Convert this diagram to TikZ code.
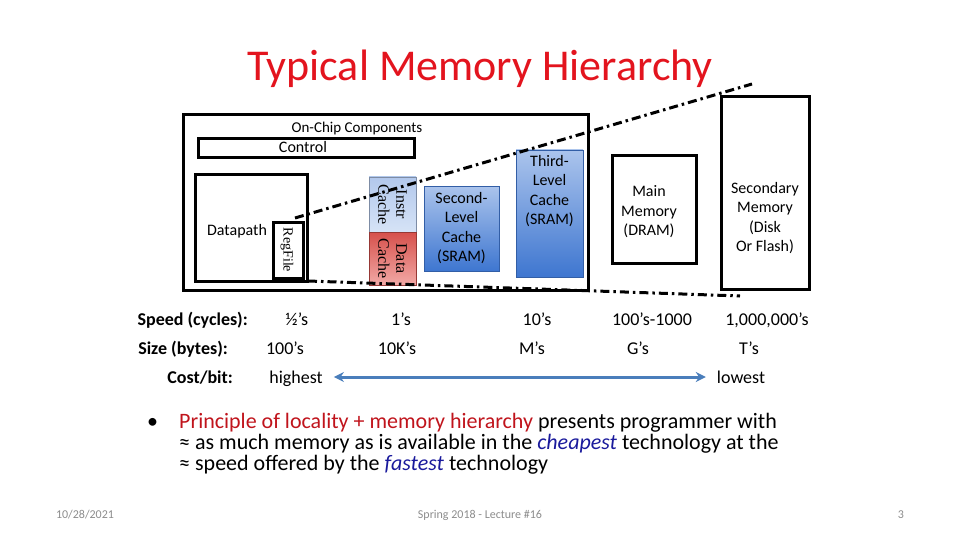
\documentclass[tikz,border=0pt]{standalone}
\usepackage{fontspec}
\setmainfont{Carlito}
\newfontfamily\serifcap{Liberation Serif}
\usetikzlibrary{arrows.meta,positioning}
\definecolor{titlered}{HTML}{E3141E}
\definecolor{locred}{HTML}{C0141C}
\definecolor{navy}{HTML}{1A1A9C}
\definecolor{arrowblue}{HTML}{4A7EBB}
\definecolor{footgray}{HTML}{8C8C8C}
\definecolor{cacheblueA}{HTML}{ABC4EC}
\definecolor{cacheblueB}{HTML}{3E76D0}
\definecolor{instrA}{HTML}{B2C8EC}
\definecolor{instrB}{HTML}{D6E3F6}
\definecolor{dataA}{HTML}{D6504B}
\definecolor{dataB}{HTML}{F2A9A6}

\begin{document}
\begin{tikzpicture}[x=1pt,y=-1pt,
  blk/.style={draw,line width=3pt,inner sep=0pt,minimum width=#1},
  blk/.default=10pt,
  cache/.style={draw=cacheblueB!80!black,line width=0.6pt,top color=cacheblueA,bottom color=cacheblueB,inner sep=0pt},
  lbl/.style={font=\fontsize{16}{19.5}\selectfont,align=center,inner sep=0pt},
  rowlbl/.style={font=\fontsize{18}{22}\selectfont\bfseries,anchor=base east,inner sep=0pt},
  rowval/.style={font=\fontsize{18}{22}\selectfont,anchor=base,inner sep=0pt},
  pline/.style={font=\fontsize{22}{21}\selectfont,anchor=base west,inner sep=0pt},
  foot/.style={font=\fontsize{12}{14}\selectfont,text=footgray,inner sep=0pt},
  hierline/.style={line width=3pt,dash pattern=on 9pt off 4pt on 2.5pt off 4pt}]
\useasboundingbox (0,0) rectangle (960,540);

% title
\node[font=\fontsize{44}{53}\selectfont,text=titlered,anchor=base,inner sep=0pt] (title) at (480,81) {Typical Memory Hierarchy};

% on-chip part
\node[blk=405pt,minimum height=175pt] (chip) at (385.5,202.5) {};
\node[lbl,font=\fontsize{15}{18}\selectfont] (chiplbl) at (357,129) {On-Chip Components};
\node[blk=216pt,minimum height=19pt] (control) at (306,148.5) {};
\node[lbl] (ctrllbl) at (303,147) {Control};
\node[blk=112pt,minimum height=106pt] (datapath) at (251,228) {};
\node[lbl] (dplbl) at (237,231) {Datapath};
\node[blk=30pt,minimum height=56pt] (regfile) at (288,250) {};
\node[rotate=-90,font=\serifcap\fontsize{14}{16}\selectfont,inner sep=0pt] (rflbl) at (287,250) {RegFile};
\node[draw=instrA!70!black,line width=0.6pt,top color=instrA,bottom color=instrB,minimum width=47pt,minimum height=55pt,inner sep=0pt] (instr) at (392.5,204.5) {};
\node[draw=dataA!70!black,line width=0.6pt,top color=dataA,bottom color=dataB,minimum width=47pt,minimum height=53pt,inner sep=0pt] (data) at (392.5,258.5) {};
\node[rotate=-90,align=center,font=\serifcap\fontsize{16}{18}\selectfont,inner sep=0pt] (instrlbl) at (instr) {Instr\\Cache};
\node[rotate=-90,align=center,font=\serifcap\fontsize{16}{18}\selectfont,inner sep=0pt] (datalbl) at (data) {Data\\Cache};
\node[cache,minimum width=75pt,minimum height=85pt] (ltwo) at (461.5,228.5) {};
\node[lbl] (ltwolbl) at (461.5,228) {Second-\\Level\\Cache\\(SRAM)};
\node[cache,minimum width=67pt,minimum height=127pt] (lthree) at (549.5,213.5) {};
\node[lbl,anchor=north] (lthreelbl) at (549.5,155) {Third-\\Level\\Cache\\(SRAM)};

% off-chip memories
\node[blk=84pt,minimum height=107pt] (mainmem) at (654,209.5) {};
\node[lbl] (mainlbl) at (649,212) {Main\\Memory\\(DRAM)};
\node[blk=88pt,minimum height=192pt] (secmem) at (765,193) {};
\node[lbl] (seclbl) at (765,218) {Secondary\\Memory\\(Disk\\Or Flash)};

% hierarchy outline
\coordinate (upL) at (295,218);
\coordinate (upR) at (752,84);
\coordinate (loL) at (308,281);
\coordinate (loR) at (740,296);
\draw[hierline] (upL) -- (upR);
\draw[hierline] (loL) -- (loR);

% rows
\node[rowlbl] (speed) at (248,325) {Speed (cycles):};
\node[rowval] (s1) at (297,325) {½’s};
\node[rowval] (s2) at (401,325) {1’s};
\node[rowval] (s3) at (537,325) {10’s};
\node[rowval] (s4) at (652,325) {100’s-1000};
\node[rowval] (s5) at (767,325) {1,000,000’s};
\node[rowlbl] (size) at (228,354) {Size (bytes):};
\node[rowval] (z1) at (285,354) {100’s};
\node[rowval] (z2) at (397,354) {10K’s};
\node[rowval] (z3) at (532,354) {M’s};
\node[rowval] (z4) at (638,354) {G’s};
\node[rowval] (z5) at (749,354) {T’s};
\node[rowlbl] (cost) at (233,383) {Cost/bit:};
\node[rowval] (high) at (296,383) {highest};
\node[rowval] (low) at (741,383) {lowest};
\draw[{Stealth[length=10pt,width=10pt]}-{Stealth[length=10pt,width=10pt]},line width=3pt,arrowblue] ([xshift=11pt]high.east |- 0,377) coordinate (hiE) -- ([xshift=-11pt]low.west |- 0,377) coordinate (loW);

% bullet
\node[pline] (dot) at (147,428) {•};
\node[pline] (pt1) at (179,428) {\textcolor{locred}{Principle of locality + memory hierarchy} presents programmer with};
\node[pline] (pt2) at (179,449) {≈ as much memory as is available in the \textcolor{navy}{\itshape cheapest} technology at the};
\node[pline] (pt3) at (179,470) {≈ speed offered by the \textcolor{navy}{\itshape fastest} technology};

% footer
\node[foot] (date) at (85,515) {10/28/2021};
\node[foot] (lect) at (480,515) {Spring 2018 - Lecture \#16};
\node[foot] (page) at (901,515) {3};
\end{tikzpicture}
\end{document}
